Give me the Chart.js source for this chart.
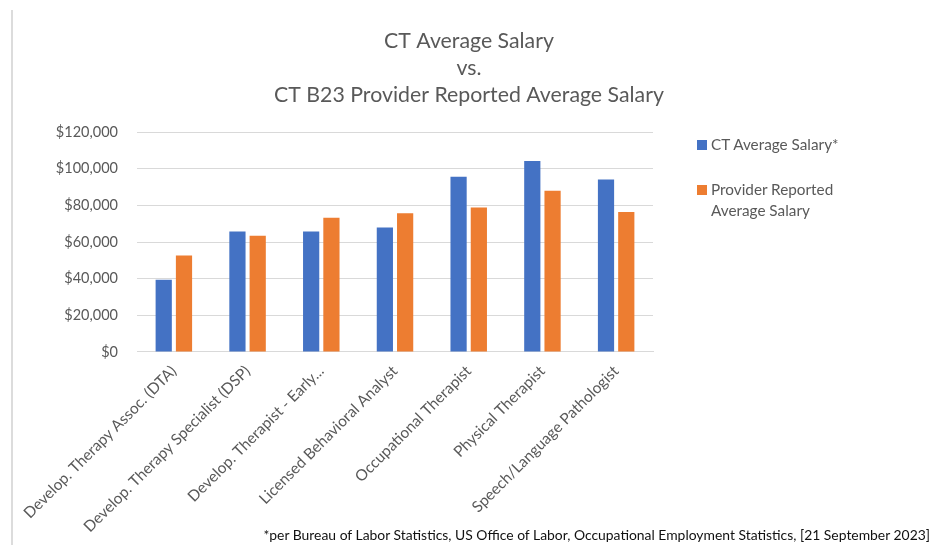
<!DOCTYPE html>
<html lang="en">
<head>
    <meta charset="UTF-8">
    <title>CT Average Salary vs. CT B23 Provider Reported Average Salary</title>
    <style>
        * {
            margin: 0;
            padding: 0;
            box-sizing: border-box;
        }

        body {
            background: #fff;
            font-family: Lato, 'Open Sans', sans-serif;
        }

        .wrap {
            position: relative;
            width: 932px;
            height: 545px;
            overflow: hidden;
        }

        /* thin frame line on the left, like the pasted screenshot */
        .frame {
            position: absolute;
            left: 11px;
            top: 10px;
            bottom: 0;
            width: 2px;
            background: #dcdcdc;
        }

        #salaryChart {
            position: absolute;
            left: 0;
            top: 0;
        }

        /* Legend */
        .legend {
            position: absolute;
            left: 697px;
            top: 134px;
            color: #595959;
            font-size: 15.3px;
            line-height: 21px;
        }

        .legend .item {
            position: relative;
            padding-left: 14px;
            margin-bottom: 24px;
        }

        .legend .box {
            position: absolute;
            left: 0;
            top: 6px;
            width: 10px;
            height: 10px;
        }

        .note {
            position: absolute;
            right: 2px;
            bottom: 2px;
            font-size: 13.9px;
            color: #111;
            white-space: nowrap;
        }
    </style>
</head>
<body>
    <div class="wrap">
        <div class="frame"></div>
        <canvas id="salaryChart" width="932" height="545"></canvas>
        <div class="legend" id="legend"></div>
        <div class="note">*per Bureau of Labor Statistics, US Office of Labor, Occupational Employment Statistics, [21 September 2023]</div>
    </div>

    <script src="https://cdn.jsdelivr.net/npm/chart.js"></script>
    <script>
        // values
        const jobs = [
            'Develop. Therapy Assoc. (DTA)',
            'Develop. Therapy Specialist (DSP)',
            'Develop. Therapist - Early...',
            'Licensed Behavioral Analyst',
            'Occupational Therapist',
            'Physical Therapist',
            'Speech/Language Pathologist'
        ];
        const ctSalary = [39400, 65700, 65700, 67900, 95700, 104200, 94100];
        const providerSalary = [52600, 63400, 73300, 75700, 78800, 88000, 76400];
        const seriesNames = ['CT Average Salary*', 'Provider Reported<br>Average Salary'];
        const seriesColors = ['#4472c4', '#ed7d31'];
        const titleLines = ['CT Average Salary', 'vs.', 'CT B23 Provider Reported Average Salary'];
        const yTicks = [0, 20000, 40000, 60000, 80000, 100000, 120000];

        const gray = '#595959';
        const font = 'Lato, "Open Sans", sans-serif';

        const ctx = document.getElementById('salaryChart').getContext('2d');
        const salaryChart = new Chart(ctx, {
            type: 'bar',
            data: {
                labels: jobs,
                datasets: [{
                    label: seriesNames[0],
                    data: ctSalary,
                    backgroundColor: seriesColors[0],
                    categoryPercentage: 0.55,
                    barPercentage: 0.8
                }, {
                    label: seriesNames[1],
                    data: providerSalary,
                    backgroundColor: seriesColors[1],
                    categoryPercentage: 0.55,
                    barPercentage: 0.8
                }]
            },
            options: {
                responsive: false,
                animation: false,
                layout: {
                    padding: { left: 6, right: 0, top: 20, bottom: 7 }
                },
                plugins: {
                    title: {
                        display: true,
                        text: titleLines,
                        color: gray,
                        font: { family: font, size: 21.3, weight: 'normal', lineHeight: 1.27 },
                        padding: { top: 8, bottom: 23 }
                    },
                    legend: { display: false },
                    tooltip: { enabled: false }
                },
                scales: {
                    x: {
                        grid: { display: false },
                        border: { color: '#d9d9d9' },
                        ticks: {
                            color: gray,
                            font: { family: font, size: 15.4 },
                            minRotation: 45,
                            maxRotation: 45,
                            padding: 2
                        }
                    },
                    y: {
                        min: 0,
                        max: 120000,
                        afterBuildTicks: axis => {
                            axis.ticks = yTicks.map(v => ({ value: v }));
                        },
                        afterFit: axis => { axis.width = 131; },
                        grid: { color: '#d9d9d9', drawTicks: false },
                        border: { display: false },
                        ticks: {
                            color: gray,
                            font: { family: font, size: 14.5 },
                            padding: 19,
                            callback: v => '$' + v.toLocaleString('en-US')
                        }
                    },
                    // empty axis that only keeps room free for the legend on the right
                    spacer: {
                        position: 'right',
                        grid: { display: false },
                        border: { display: false },
                        ticks: { display: false },
                        afterFit: axis => { axis.width = 279; }
                    }
                }
            }
        });

        // legend drawn as html so the second name can wrap like the original
        const legendEl = document.getElementById('legend');
        salaryChart.data.datasets.forEach(ds => {
            const item = document.createElement('div');
            item.className = 'item';
            item.innerHTML = '<span class="box" style="background:' + ds.backgroundColor + '"></span>' + ds.label;
            legendEl.appendChild(item);
        });
    </script>
</body>
</html>
